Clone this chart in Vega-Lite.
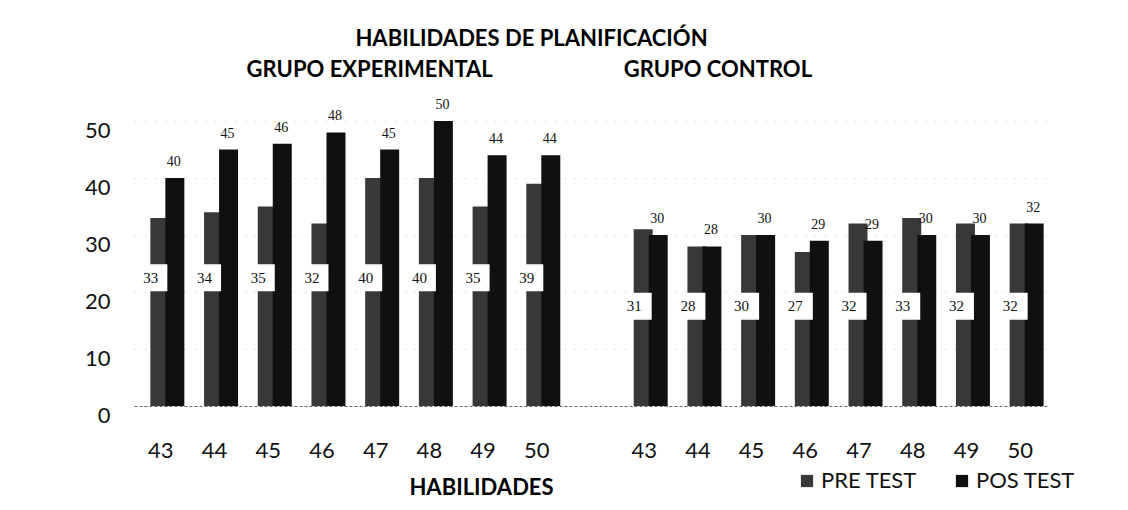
{
  "$schema": "https://vega.github.io/schema/vega-lite/v6.json",
  "width": 913,
  "height": 285,
  "autosize": {"type": "none"},
  "padding": {"left": 134, "top": 121, "right": 81, "bottom": 104},
  "background": "white",
  "title": {
    "text": "HABILIDADES DE PLANIFICACIÓN",
    "font": "Lato",
    "fontSize": 22,
    "fontWeight": "bold",
    "color": "#000000",
    "anchor": "middle",
    "dx": -59,
    "offset": 8
  },
  "config": {"view": {"stroke": null}, "font": "Lato"},
  "data": {
    "values": [
      {"grupo": "Experimental", "hab": "43", "key": "E43", "pre": 33, "post": 40},
      {"grupo": "Experimental", "hab": "44", "key": "E44", "pre": 34, "post": 45},
      {"grupo": "Experimental", "hab": "45", "key": "E45", "pre": 35, "post": 46},
      {"grupo": "Experimental", "hab": "46", "key": "E46", "pre": 32, "post": 48},
      {"grupo": "Experimental", "hab": "47", "key": "E47", "pre": 40, "post": 45},
      {"grupo": "Experimental", "hab": "48", "key": "E48", "pre": 40, "post": 50},
      {"grupo": "Experimental", "hab": "49", "key": "E49", "pre": 35, "post": 44},
      {"grupo": "Experimental", "hab": "50", "key": "E50", "pre": 39, "post": 44},
      {"grupo": "Control", "hab": "43", "key": "C43", "pre": 31, "post": 30},
      {"grupo": "Control", "hab": "44", "key": "C44", "pre": 28, "post": 28},
      {"grupo": "Control", "hab": "45", "key": "C45", "pre": 30, "post": 30},
      {"grupo": "Control", "hab": "46", "key": "C46", "pre": 27, "post": 29},
      {"grupo": "Control", "hab": "47", "key": "C47", "pre": 32, "post": 29},
      {"grupo": "Control", "hab": "48", "key": "C48", "pre": 33, "post": 30},
      {"grupo": "Control", "hab": "49", "key": "C49", "pre": 32, "post": 30},
      {"grupo": "Control", "hab": "50", "key": "C50", "pre": 32, "post": 32}
    ]
  },
  "encoding": {
    "x": {
      "field": "key",
      "type": "nominal",
      "sort": null,
      "scale": {
        "domain": ["E43", "E44", "E45", "E46", "E47", "E48", "E49", "E50", "gap", "C43", "C44", "C45", "C46", "C47", "C48", "C49", "C50"],
        "paddingInner": 0,
        "paddingOuter": 0
      },
      "axis": {
        "labelExpr": "datum.value == 'gap' ? '' : substring(datum.value, 1)",
        "labelAngle": 0,
        "labelFont": "Lato",
        "labelFontSize": 22,
        "labelColor": "#111111",
        "labelPadding": 34,
        "ticks": false,
        "domain": true,
        "domainColor": "#666666",
        "domainDash": [3, 2],
        "title": "HABILIDADES",
        "titleFont": "Lato",
        "titleFontSize": 22,
        "titleFontWeight": "bold",
        "titleColor": "#000000",
        "titleX": 347,
        "titleY": 81,
        "titleAlign": "center",
        "titleBaseline": "middle"
      }
    }
  },
  "layer": [
    {
      "mark": {"type": "bar", "width": 19, "xOffset": -1},
      "encoding": {
        "y": {
          "field": "pre",
          "type": "quantitative",
          "title": null,
          "scale": {"domain": [0, 50], "nice": false},
          "axis": {
            "values": [0, 10, 20, 30, 40, 50],
            "labelFont": "Lato",
            "labelFontSize": 22,
            "labelColor": "#111111",
            "labelPadding": 24,
            "labelOffset": 9,
            "ticks": false,
            "tickSize": 0,
            "domain": false,
            "grid": true,
            "gridColor": "#bbbbbb",
            "gridDash": [2, 8],
            "gridOpacity": 0.5
          }
        },
        "color": {
          "datum": "PRE TEST",
          "type": "nominal",
          "scale": {"domain": ["PRE TEST", "POS TEST"], "range": ["#383838", "#101010"]},
          "legend": {
            "orient": "none",
            "legendX": 662,
            "legendY": 349,
            "direction": "horizontal",
            "title": null,
            "symbolType": "square",
            "symbolSize": 150,
            "symbolStrokeWidth": 0,
            "symbolOpacity": 1,
            "labelFont": "Lato",
            "labelFontSize": 22,
            "labelColor": "#111111",
            "labelOffset": 3,
            "columnPadding": 34,
            "padding": 0
          }
        }
      }
    },
    {
      "mark": {"type": "bar", "width": 19, "xOffset": 14},
      "encoding": {
        "y": {"field": "post", "type": "quantitative", "title": null},
        "color": {"datum": "POS TEST", "type": "nominal"}
      }
    },
    {
      "mark": {"type": "text", "font": "Liberation Serif", "fontSize": 14, "xOffset": 13, "dy": -12, "baseline": "alphabetic", "color": "#111111"},
      "encoding": {
        "y": {"field": "post", "type": "quantitative", "title": null},
        "text": {"field": "post", "type": "quantitative"}
      }
    },
    {
      "transform": [{"filter": "datum.grupo == 'Experimental'"}],
      "mark": {"type": "square", "size": 729, "color": "white", "opacity": 1, "xOffset": -7},
      "encoding": {"y": {"datum": 22.5}}
    },
    {
      "transform": [{"filter": "datum.grupo == 'Control'"}],
      "mark": {"type": "square", "size": 729, "color": "white", "opacity": 1, "xOffset": -6},
      "encoding": {"y": {"datum": 17.5}}
    },
    {
      "transform": [{"filter": "datum.grupo == 'Experimental'"}],
      "mark": {"type": "text", "font": "Liberation Serif", "fontSize": 15, "xOffset": -10, "color": "#111111"},
      "encoding": {"y": {"datum": 22.5}, "text": {"field": "pre", "type": "quantitative"}}
    },
    {
      "transform": [{"filter": "datum.grupo == 'Control'"}],
      "mark": {"type": "text", "font": "Liberation Serif", "fontSize": 15, "xOffset": -10, "color": "#111111"},
      "encoding": {"y": {"datum": 17.5}, "text": {"field": "pre", "type": "quantitative"}}
    },
    {
      "data": {"values": [{"t": "GRUPO EXPERIMENTAL"}]},
      "mark": {"type": "text", "font": "Lato", "fontSize": 22, "fontWeight": "bold", "xOffset": -6, "color": "#000000"},
      "encoding": {"x": {"datum": "E47"}, "y": {"datum": 59}, "text": {"field": "t"}}
    },
    {
      "data": {"values": [{"t": "GRUPO CONTROL"}]},
      "mark": {"type": "text", "font": "Lato", "fontSize": 22, "fontWeight": "bold", "xOffset": 20, "color": "#000000"},
      "encoding": {"x": {"datum": "C44"}, "y": {"datum": 59}, "text": {"field": "t"}}
    }
  ]
}
